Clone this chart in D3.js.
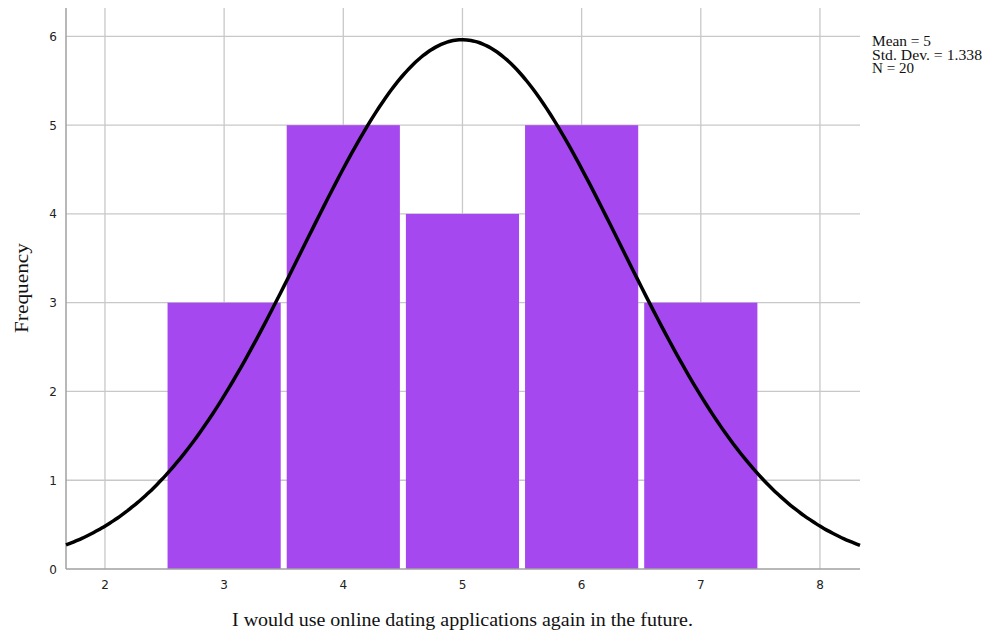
<!DOCTYPE html>
<html><head><meta charset="utf-8">
<script src="https://cdn.jsdelivr.net/npm/d3@7"></script>
<style>body{margin:0;background:#fff}</style>
</head><body><svg id="c" width="986" height="636"></svg>
<script>
const categories = [3, 4, 5, 6, 7];
const frequencies = [3, 5, 4, 5, 3];
const xTicks = [2, 3, 4, 5, 6, 7, 8];
const yTicks = [0, 1, 2, 3, 4, 5, 6];
const mean = 5, stdDev = 1.338, n = 20;
const statsLines = ["Mean = 5", "Std. Dev. = 1.338", "N = 20"];

(function () {
const svg = d3.select("#c");
const pLeft = 66, pRight = 860, pTop = 8, pBottom = 569;
const x = d3.scaleLinear().domain([1.673, 8.336]).range([pLeft, pRight]);
const y = d3.scaleLinear().domain([0, 6.32]).range([pBottom, pTop]);
const serif = "Liberation Serif, Times New Roman, serif";

// gridlines
svg.append("g").selectAll("line").data(xTicks).join("line")
  .attr("x1", d => x(d)).attr("x2", d => x(d)).attr("y1", pTop).attr("y2", pBottom)
  .attr("stroke", "#c8c8c8").attr("stroke-width", 1.3);
svg.append("g").selectAll("line").data(yTicks.slice(1)).join("line")
  .attr("x1", pLeft).attr("x2", pRight).attr("y1", d => y(d)).attr("y2", d => y(d))
  .attr("stroke", "#c8c8c8").attr("stroke-width", 1.3);

// bars
const inset = 3;
svg.append("g").selectAll("rect").data(categories).join("rect")
  .attr("x", d => x(d - 0.5) + inset)
  .attr("width", d => x(d + 0.5) - x(d - 0.5) - 2 * inset)
  .attr("y", (d, i) => y(frequencies[i]))
  .attr("height", (d, i) => y(0) - y(frequencies[i]))
  .attr("fill", "#a648f0");

// axes lines
svg.append("line").attr("x1", pLeft).attr("x2", pLeft).attr("y1", pTop).attr("y2", pBottom)
  .attr("stroke", "#a0a0a0").attr("stroke-width", 1.5);
svg.append("line").attr("x1", pLeft).attr("x2", pRight).attr("y1", pBottom).attr("y2", pBottom)
  .attr("stroke", "#a0a0a0").attr("stroke-width", 1.5);

// normal curve
const dom = x.domain();
const pts = d3.range(0, 201).map(i => {
  const xv = dom[0] + (dom[1] - dom[0]) * i / 200;
  const z = (xv - mean) / stdDev;
  return [xv, n * Math.exp(-0.5 * z * z) / (stdDev * Math.sqrt(2 * Math.PI))];
});
svg.append("path").datum(pts)
  .attr("d", d3.line().x(d => x(d[0])).y(d => y(d[1])).curve(d3.curveBasis))
  .attr("fill", "none").attr("stroke", "#000").attr("stroke-width", 3.5);

// tick labels
svg.append("g").selectAll("text").data(xTicks).join("text")
  .attr("x", d => x(d)).attr("y", 589).attr("text-anchor", "middle")
  .attr("font-family", "DejaVu Sans, sans-serif").attr("font-size", 12).attr("fill", "#222")
  .text(d => d);
svg.append("g").selectAll("text").data(yTicks).join("text")
  .attr("x", 57).attr("y", d => y(d) + 4.5).attr("text-anchor", "end")
  .attr("font-family", "DejaVu Sans, sans-serif").attr("font-size", 12).attr("fill", "#222")
  .text(d => d);

// axis titles
svg.append("text").attr("x", 232).attr("y", 626)
  .attr("font-family", serif).attr("font-size", 18).attr("fill", "#111")
  .attr("textLength", 461).attr("lengthAdjust", "spacingAndGlyphs")
  .text("I would use online dating applications again in the future.");
svg.append("text").attr("transform", "translate(28,333) rotate(-90)")
  .attr("font-family", serif).attr("font-size", 18).attr("fill", "#111")
  .attr("textLength", 90).attr("lengthAdjust", "spacingAndGlyphs")
  .text("Frequency");

// stats
const statWidths = [59, 110, 42];
svg.append("g").selectAll("text").data(statsLines).join("text")
  .attr("x", 872).attr("y", (d, i) => 46 + i * 13.5)
  .attr("font-family", serif).attr("font-size", 14).attr("fill", "#111")
  .attr("textLength", (d, i) => statWidths[i]).attr("lengthAdjust", "spacingAndGlyphs")
  .text(d => d);
})();
</script></body></html>
